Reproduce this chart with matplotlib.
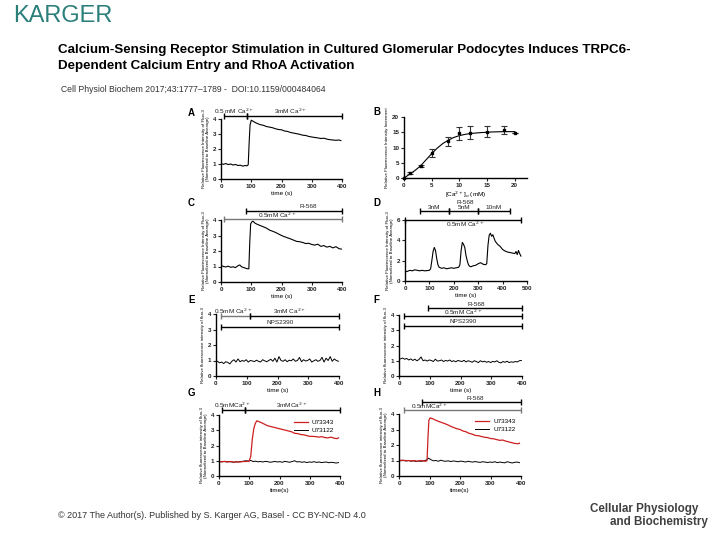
import numpy as np
import matplotlib
matplotlib.use("Agg")
import matplotlib.pyplot as plt

plt.rcParams['font.family'] = ['Liberation Sans', 'DejaVu Sans']

# ---- data ----
# A: 0.5 mM -> 3 mM Ca2+
A_t = [0, 8, 16, 24, 32, 40, 48, 56, 64, 72, 80, 86, 90, 93, 96, 100, 106, 112, 120, 130,
       140, 150, 160, 170, 180, 190, 200, 210, 220, 230, 240, 250, 260, 270, 280, 290, 300,
       310, 320, 330, 340, 350, 360, 370, 380, 390, 396]
A_v = [1.02, 0.98, 1.03, 0.96, 1.0, 0.93, 0.97, 0.9, 0.92, 0.86, 0.9, 0.88, 0.95, 2.4, 3.6,
       3.92, 3.85, 3.78, 3.7, 3.62, 3.58, 3.5, 3.46, 3.42, 3.35, 3.3, 3.28, 3.2, 3.17, 3.1,
       3.06, 3.02, 2.98, 2.92, 2.9, 2.84, 2.8, 2.77, 2.74, 2.7, 2.72, 2.66, 2.62, 2.6, 2.58,
       2.6, 2.56]

# B: dose response
B_x = [0, 1, 3, 5, 8, 10, 12, 15, 18, 20]
B_y = [0, 1.6, 3.8, 8.3, 12.1, 14.6, 14.9, 15.1, 15.7, 14.8]
B_err = [0, 0.3, 0.3, 1.3, 1.5, 2.2, 2.2, 1.8, 1.3, 0]
B_fit_x = [0, 1, 2, 3, 4, 5, 6, 7, 8, 9, 10, 11, 12, 14, 16, 18, 20]
B_fit_y = [0, 1.2, 2.5, 4.0, 6.0, 8.0, 9.8, 11.3, 12.4, 13.3, 13.9, 14.3, 14.6, 14.9, 15.1,
           15.2, 15.2]

# C: R-568 in 0.5 mM Ca2+
C_t = [0, 8, 16, 24, 32, 40, 48, 56, 62, 68, 74, 80, 86, 92, 95, 98, 102, 106, 112, 120,
       130, 140, 150, 160, 170, 180, 190, 200, 210, 220, 230, 240, 250, 260, 270, 280, 290,
       300, 310, 320, 330, 340, 350, 360, 370, 380, 390, 398]
C_v = [1.08, 1.0, 0.97, 1.02, 0.95, 0.98, 0.93, 1.05, 1.1, 0.98, 0.94, 0.9, 0.86, 0.85, 2.5,
       3.75, 3.88, 3.92, 3.8, 3.72, 3.64, 3.56, 3.48, 3.35, 3.28, 3.2, 3.1, 3.0, 2.92, 2.85,
       2.78, 2.7, 2.62, 2.6, 2.55, 2.48, 2.5, 2.42, 2.38, 2.44, 2.3, 2.35, 2.25, 2.3, 2.2,
       2.28, 2.15, 2.12]

# D: R-568 3/5/10 nM
D_t = [0, 10, 20, 30, 40, 50, 60, 70, 80, 90, 100, 105, 110, 115, 120, 125, 130, 135, 140,
       150, 160, 170, 180, 190, 200, 210, 220, 225, 230, 235, 240, 245, 250, 255, 260, 265,
       270, 280, 290, 300, 310, 320, 330, 335, 340, 345, 350, 355, 360, 365, 370, 380, 390,
       400, 410, 420, 430, 440, 450, 455, 460, 465, 470, 475]
D_v = [0.9, 0.95, 1.05, 1.0, 1.1, 1.05, 1.0, 1.05, 1.0, 1.02, 1.05, 1.2, 2.0, 2.9, 3.3, 3.0,
       2.2, 1.6, 1.35, 1.25, 1.3, 1.2, 1.25, 1.3, 1.25, 1.3, 1.35, 1.6, 3.0, 3.8, 3.6, 3.3,
       2.5, 2.0, 1.6, 1.45, 1.4, 1.5, 1.55, 1.7, 1.8, 1.65, 1.6, 1.7, 3.5, 4.5, 4.7, 4.4,
       4.55, 4.2, 3.9, 3.6, 3.4, 3.1, 2.95, 2.85, 2.8, 2.75, 2.7, 2.9, 2.6, 3.0, 2.7, 2.45]

# E: NPS2390, 0.5 -> 3 mM Ca2+
E_v = [0.95, 0.85, 0.9, 0.8, 0.92, 0.88, 0.78, 0.95, 1.05, 0.9, 1.1, 0.92, 1.0, 0.95, 1.05,
       0.9, 1.0, 0.97, 0.93, 1.02, 0.95, 0.9, 1.05, 0.98, 0.92, 1.0, 1.08, 0.95, 1.15, 0.9,
       1.25, 1.0, 0.95, 1.05, 0.92, 1.02, 0.98, 1.1, 0.95, 1.0, 1.2, 0.92, 1.05, 0.97, 1.0,
       1.1, 0.9, 0.98, 1.05, 0.95, 1.0, 1.2, 0.9, 1.15, 1.0, 1.25, 0.95, 1.1, 1.0, 0.95]

# F: NPS2390 + R-568
F_v = [1.12, 1.18, 1.1, 1.15, 1.05, 1.12, 1.02, 1.1, 1.0, 1.08, 1.25, 1.0, 1.05, 0.98, 1.05,
       1.02, 0.95, 1.1, 0.98, 1.0, 1.05, 0.95, 1.02, 0.98, 1.05, 0.95, 1.0, 0.93, 1.02, 0.98,
       0.95, 1.03, 0.92, 1.0, 0.96, 0.9, 1.0, 0.95, 0.88, 1.0, 0.93, 0.97, 0.9, 0.95, 0.88,
       0.96, 0.92, 1.0, 0.9, 0.86, 0.95, 0.9, 0.97, 0.88, 0.93, 0.9, 0.95, 0.92, 1.0, 1.02]

# G: U73343 (red) vs U73122 (black), 0.5 -> 3 mM Ca2+
G_red_t = [0, 10, 20, 30, 40, 50, 60, 70, 80, 90, 100, 105, 110, 115, 120, 125, 130, 140,
           150, 160, 170, 180, 190, 200, 210, 220, 230, 240, 250, 260, 270, 280, 290, 300,
           310, 320, 330, 340, 350, 360, 370, 380, 390, 395]
G_red_v = [0.95, 0.93, 0.96, 0.92, 0.95, 0.9, 0.93, 0.92, 0.95, 0.95, 0.98, 1.3, 2.4, 3.1,
           3.45, 3.62, 3.58, 3.5, 3.4, 3.3, 3.25, 3.2, 3.15, 3.1, 3.05, 3.0, 2.95, 2.9, 2.8,
           2.78, 2.72, 2.7, 2.65, 2.6, 2.6, 2.58, 2.55, 2.58, 2.52, 2.5, 2.55, 2.48, 2.45, 2.5]
G_blk_v = [0.95, 0.93, 0.96, 0.92, 0.95, 0.93, 0.9, 0.94, 0.92, 0.95, 0.97, 1.0, 0.98, 1.02,
           0.95, 0.97, 0.93, 0.95, 0.92, 0.96, 0.94, 0.9, 0.93, 0.95, 0.92, 0.94, 0.9, 0.96,
           0.93, 0.9, 0.95, 1.0, 0.92, 0.94, 0.9, 0.93, 0.88, 0.92, 0.9, 0.94, 0.89, 0.92,
           0.88, 0.9, 0.92, 0.87, 0.9, 0.88, 0.85, 0.88]

# H: U73343 (red) vs U73122 (black), R-568
H_red_t = [0, 10, 20, 30, 40, 50, 60, 70, 80, 88, 92, 95, 98, 102, 106, 112, 120, 130, 140,
           150, 160, 170, 180, 190, 200, 210, 220, 230, 240, 250, 260, 270, 280, 290, 300,
           310, 320, 330, 340, 350, 360, 370, 380, 390, 395]
H_red_v = [1.0, 1.02, 0.98, 1.0, 0.97, 1.0, 0.95, 1.0, 0.97, 0.95, 1.0, 2.5, 3.6, 3.75, 3.72,
           3.68, 3.6, 3.52, 3.45, 3.38, 3.3, 3.2, 3.12, 3.05, 3.0, 2.9, 2.85, 2.75, 2.7, 2.62,
           2.6, 2.55, 2.5, 2.48, 2.42, 2.4, 2.35, 2.3, 2.32, 2.25, 2.2, 2.15, 2.1, 2.08, 2.12]
H_blk_v = [1.0, 0.98, 1.02, 0.97, 1.0, 0.95, 0.98, 0.93, 0.97, 0.95, 0.98, 1.02, 1.15, 1.05,
           0.98, 1.0, 0.95, 1.02, 0.97, 0.95, 0.98, 0.93, 0.97, 0.95, 0.92, 0.96, 0.94, 0.9,
           0.95, 0.92, 0.9, 0.93, 0.9, 0.88, 0.92, 0.9, 0.87, 0.9, 0.88, 0.92, 0.86, 0.9,
           0.87, 0.85, 0.92, 0.88, 0.84, 0.88, 0.9, 0.86]

YLAB2 = "Relative Fluorescence Intensity of Fluo-3\n(Normalized to Baseline Average)"
YLAB1 = "Relative fluorescence intensity of fluo-3"
YLAB3 = "Relative fluorescence intensity of fluo-3\n(Normalized to Baseline Average)"

W, H = 720, 540
fig = plt.figure(figsize=(7.2, 5.4), dpi=100)


def px_axes(left, right, top, bottom):
    ax = fig.add_axes([left / W, 1 - bottom / H, (right - left) / W, (bottom - top) / H])
    for s in ('top', 'right'):
        ax.spines[s].set_visible(False)
    for s in ('left', 'bottom'):
        ax.spines[s].set_linewidth(1.0)
    ax.tick_params(labelsize=4.5, width=0.8, length=2, pad=1.5, colors='#222222')
    ax.patch.set_alpha(0)
    return ax


def finish(ax):
    for lab in ax.get_xticklabels() + ax.get_yticklabels():
        lab.set_fontweight('bold')


def bar(ax, x0, x1, y, label=None, ly=None, lx=None, color='black'):
    ax.plot([x0, x1], [y, y], color=color, lw=1.0, marker='|', ms=4, mew=1.0,
            clip_on=False, solid_capstyle='butt')
    if label:
        ax.text((x0 + x1) / 2 if lx is None else lx, ly, label,
                ha='center', va='center', fontsize=4.6, color='#222222')


def ylabel(ax, txt):
    ax.set_ylabel(txt, fontsize=3.2, labelpad=2, linespacing=1.1)


def letter(x, y, s):
    fig.text(x / W, 1 - y / H, s, fontsize=7, fontweight='bold', va='center', ha='left')


# header / footer
fig.text(13 / W, 1 - 16 / H, "KARGER", fontsize=17, color='#2a7f7a', va='center', ha='left')
fig.text(58 / W, 1 - 44 / H,
         "Calcium-Sensing Receptor Stimulation in Cultured Glomerular Podocytes Induces TRPC6-\n"
         "Dependent Calcium Entry and RhoA Activation",
         fontsize=9.6, fontweight='bold', va='top', ha='left', linespacing=1.45)
fig.text(61 / W, 1 - 90 / H, "Cell Physiol Biochem 2017;43:1777\u20131789 -  DOI:10.1159/000484064",
         fontsize=6.2, va='center', ha='left', color='#333333')
fig.text(58 / W, 1 - 516 / H,
         "\u00a9 2017 The Author(s). Published by S. Karger AG, Basel - CC BY-NC-ND 4.0",
         fontsize=6.5, va='center', ha='left', color='#333333')
fig.text(590 / W, 1 - 509 / H, "Cellular Physiology", fontsize=8.4, fontweight='bold',
         color='#404040', va='center', ha='left')
fig.text(708 / W, 1 - 522 / H, "and Biochemistry", fontsize=8.4, fontweight='bold',
         color='#404040', va='center', ha='right')

# ---- A ----
ax = px_axes(221, 342, 119, 179)
ax.plot(A_t, A_v, color='black', lw=0.8)
ax.set_xlim(0, 400); ax.set_ylim(0, 4)
ax.set_xticks([0, 100, 200, 300, 400]); ax.set_yticks([0, 1, 2, 3, 4])
ax.set_xlabel("time (s)", fontsize=4.6, labelpad=1.5)
ylabel(ax, YLAB2)
bar(ax, 11, 85, 4.22, "0.5 mM Ca$^{2+}$", ly=4.53, lx=45)
bar(ax, 85, 400, 4.22, "3mM Ca$^{2+}$", ly=4.53, lx=230)
finish(ax)
letter(188, 113, "A")

# ---- B ----
ax = px_axes(404, 527, 117, 178)
ax.plot(B_fit_x, B_fit_y, color='black', lw=0.8)
ax.errorbar(B_x, B_y, yerr=B_err, fmt='s', ms=2, color='black', ecolor='#333333',
            elinewidth=0.8, capsize=2, capthick=0.8, clip_on=False)
ax.set_xlim(0, 22.2); ax.set_ylim(0, 20)
ax.set_xticks([0, 5, 10, 15, 20]); ax.set_yticks([0, 5, 10, 15, 20])
ax.set_xlabel("[Ca$^{2+}$]$_o$ (mM)", fontsize=4.6, labelpad=1.0)
ylabel(ax, "Relative Fluorescence Intensity Increment")
finish(ax)
letter(373, 112, "B")

# ---- C ----
ax = px_axes(221, 342, 220, 282)
ax.plot(C_t, C_v, color='black', lw=0.8)
ax.set_xlim(0, 400); ax.set_ylim(0, 4)
ax.set_xticks([0, 100, 200, 300, 400]); ax.set_yticks([0, 1, 2, 3, 4])
ax.set_xlabel("time (s)", fontsize=4.6, labelpad=1.5)
ylabel(ax, YLAB2)
bar(ax, 81, 400, 4.58, "R-568", ly=4.85, lx=290)
bar(ax, 11, 400, 4.06, "0.5mM Ca$^{2+}$", ly=4.28, lx=185, color='#777777')
finish(ax)
letter(188, 203, "C")

# ---- D ----
ax = px_axes(405, 527, 220, 281)
ax.plot(D_t, D_v, color='black', lw=0.8)
ax.set_xlim(0, 500); ax.set_ylim(0, 6)
ax.set_xticks([0, 100, 200, 300, 400, 500]); ax.set_yticks([0, 2, 4, 6])
ax.set_xlabel("time (s)", fontsize=4.6, labelpad=1.5)
ylabel(ax, YLAB2)
ax.text(245, 7.77, "R-568", ha='center', va='center', fontsize=4.6, color='#222222')
bar(ax, 60, 180, 6.88, "3nM", ly=7.2)
bar(ax, 180, 300, 6.88, "5nM", ly=7.2)
bar(ax, 300, 430, 6.88, "10nM", ly=7.2)
bar(ax, 0, 475, 6.03, "0.5mM Ca$^{2+}$", ly=5.55, lx=245)
finish(ax)
letter(373, 203, "D")

# ---- E ----
ax = px_axes(216, 339, 314, 376)
ax.plot(np.linspace(5, 398, len(E_v)), E_v, color='black', lw=0.7)
ax.set_xlim(0, 400); ax.set_ylim(0, 4)
ax.set_xticks([0, 100, 200, 300, 400]); ax.set_yticks([0, 1, 2, 3, 4])
ax.set_xlabel("time (s)", fontsize=4.6, labelpad=1.5)
ylabel(ax, YLAB1)
bar(ax, 15, 110, 3.85, "0.5mM Ca$^{2+}$", ly=4.2, lx=55, color='#777777')
bar(ax, 110, 400, 3.85, "3mM Ca$^{2+}$", ly=4.2, lx=240)
bar(ax, 15, 400, 3.18, "NPS2390", ly=3.45, lx=210)
finish(ax)
letter(188, 300, "E")

# ---- F ----
ax = px_axes(399, 522, 315, 376)
ax.plot(np.linspace(5, 398, len(F_v)), F_v, color='black', lw=0.7)
ax.set_xlim(0, 400); ax.set_ylim(0, 4)
ax.set_xticks([0, 100, 200, 300, 400]); ax.set_yticks([0, 1, 2, 3, 4])
ax.set_xlabel("time (s)", fontsize=4.6, labelpad=1.5)
ylabel(ax, YLAB1)
bar(ax, 95, 400, 4.46, "R-568", ly=4.72, lx=250)
bar(ax, 15, 400, 3.95, "0.5mM Ca$^{2+}$", ly=4.2, lx=210)
bar(ax, 15, 400, 3.3, "NPS2390", ly=3.58, lx=210)
finish(ax)
letter(373, 300, "F")

# ---- G ----
ax = px_axes(219, 340, 415, 476)
ax.plot(np.linspace(0, 395, len(G_blk_v)), G_blk_v, color='black', lw=0.7, label="U73122")
ax.plot(G_red_t, G_red_v, color='#cc1f1f', lw=0.9, label="U73343")
ax.set_xlim(0, 400); ax.set_ylim(0, 4)
ax.set_xticks([0, 100, 200, 300, 400]); ax.set_yticks([0, 1, 2, 3, 4])
ax.set_xlabel("time(s)", fontsize=4.6, labelpad=1.5)
ylabel(ax, YLAB3)
bar(ax, 10, 85, 4.33, "0.5mMCa$^{2+}$", ly=4.62, lx=45)
bar(ax, 85, 400, 4.33, "3mMCa$^{2+}$", ly=4.62, lx=240)
h, l = ax.get_legend_handles_labels()
ax.legend(h[::-1], l[::-1], loc='upper right', bbox_to_anchor=(1.0, 1.02), fontsize=4.6,
          frameon=False, handlelength=2.2, handletextpad=0.6, labelspacing=0.4)
finish(ax)
letter(188, 393, "G")

# ---- H ----
ax = px_axes(399, 521, 414, 476)
ax.plot(np.linspace(0, 395, len(H_blk_v)), H_blk_v, color='black', lw=0.7, label="U73122")
ax.plot(H_red_t, H_red_v, color='#cc1f1f', lw=0.9, label="U73343")
ax.set_xlim(0, 400); ax.set_ylim(0, 4)
ax.set_xticks([0, 100, 200, 300, 400]); ax.set_yticks([0, 1, 2, 3, 4])
ax.set_xlabel("time(s)", fontsize=4.6, labelpad=1.5)
ylabel(ax, YLAB3)
bar(ax, 75, 400, 4.77, "R-568", ly=5.0, lx=250)
bar(ax, 15, 400, 4.26, "0.5mMCa$^{2+}$", ly=4.47, lx=100, color='#777777')
h, l = ax.get_legend_handles_labels()
ax.legend(h[::-1], l[::-1], loc='upper right', bbox_to_anchor=(1.0, 1.02), fontsize=4.6,
          frameon=False, handlelength=2.2, handletextpad=0.6, labelspacing=0.4)
finish(ax)
letter(373, 393, "H")

fig.savefig("out.png", dpi=100)
